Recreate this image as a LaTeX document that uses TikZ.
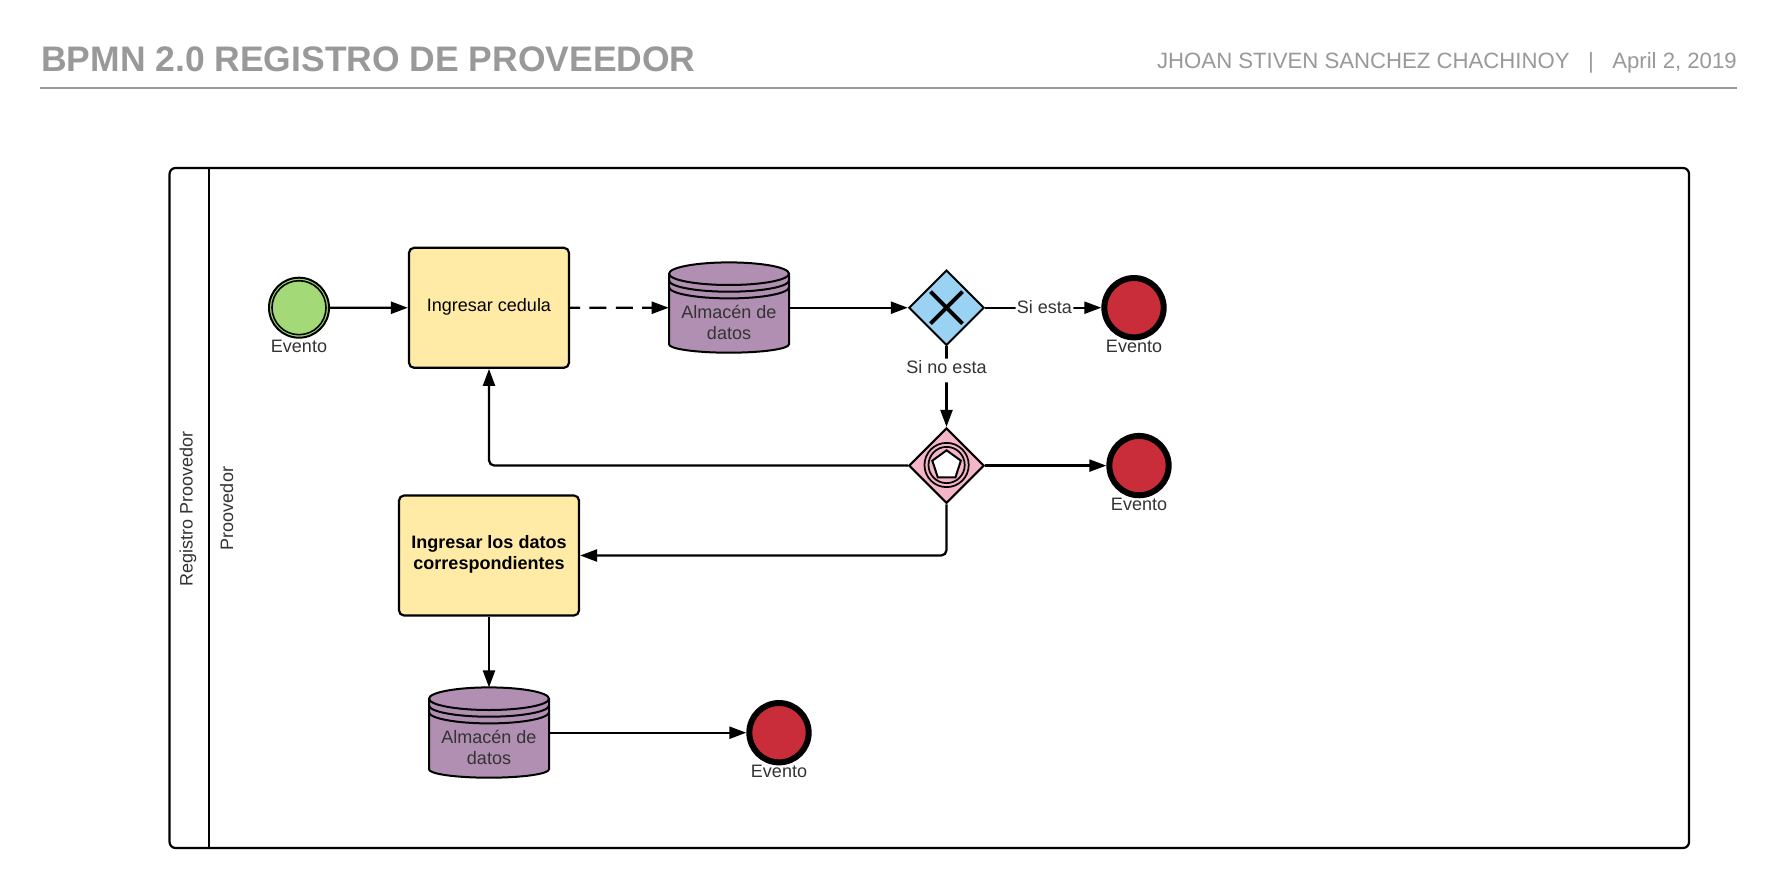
\documentclass[tikz,border=0pt]{standalone}
\usepackage{fontspec}
\setmainfont{Liberation Sans}
\usetikzlibrary{arrows.meta,shapes.geometric,calc}
\definecolor{taskfill}{HTML}{FFEBA6}
\definecolor{dbfill}{HTML}{B08FB2}
\definecolor{startfill}{HTML}{A3D977}
\definecolor{endfill}{HTML}{C92D39}
\definecolor{xorfill}{HTML}{99D2F2}
\definecolor{evfill}{HTML}{F5B5C9}
\definecolor{headgray}{HTML}{999999}
\definecolor{lbl}{HTML}{333333}
\newcommand{\lift}{\rule[-4.55pt]{0pt}{1pt}}
\tikzset{
  x=0.75pt,y=0.75pt,
  base text/.style={font=\fontsize{13.5pt}{15.75pt}\selectfont,align=center,inner sep=0pt},
  taskbox/.style={base text,draw=black,line width=1.65pt,fill=taskfill,rounded corners=3.8pt,text=black},
  pool/.style={draw=black,line width=1.65pt,rounded corners=4.5pt,minimum width=1139.6pt,minimum height=510pt,inner sep=0pt},
  gate/.style={diamond,aspect=1,draw=black,line width=1.5pt,inner sep=0pt,minimum width=56.5pt,minimum height=56.5pt},
  startev/.style={circle,draw=black,line width=1.5pt,fill=startfill,inner sep=0pt,minimum size=45pt},
  endev/.style={circle,draw=black,line width=4.5pt,fill=endfill,inner sep=0pt,minimum size=44.5pt},
  dbbox/.style={rectangle,inner sep=0pt,minimum width=90pt,minimum height=67.5pt},
  lab/.style={base text,text=lbl},
  edgelab/.style={base text,text=lbl,fill=white,inner sep=1pt},
  flow/.style={draw=black,line width=1.7pt,-{Triangle[length=12.75pt,width=9pt]},rounded corners=4pt},
  dbline/.style={draw=black,line width=1.5pt},
}
\newcommand{\dbshape}[2]{%
  \begin{scope}[shift={(#1,-#2)}]
    \path[dbline,fill=dbfill] (-60,34) -- (-60,-36.6) arc[start angle=180,end angle=360,x radius=60,y radius=8.4]
      -- (60,34) arc[start angle=0,end angle=180,x radius=60,y radius=11.3] -- cycle;
    \path[dbline] (-60,34) arc[start angle=180,end angle=360,x radius=60,y radius=11.3];
    \path[dbline] (-60,27.3) arc[start angle=180,end angle=360,x radius=60,y radius=11.3];
    \path[dbline] (-60,20.6) arc[start angle=180,end angle=360,x radius=60,y radius=11.3];
  \end{scope}}
\begin{document}
\begin{tikzpicture}
\useasboundingbox (0,0) rectangle (1777,-888);
\fill[white] (0,0) rectangle (1777,-888);
% header
\node[anchor=base west,inner sep=0pt,text=headgray,font=\fontsize{26.6pt}{30pt}\selectfont\bfseries] (title) at (41,-72) {BPMN 2.0 REGISTRO DE PROVEEDOR};
\node[anchor=base east,inner sep=0pt,text=headgray,font=\fontsize{16.62pt}{20pt}\selectfont] (meta) at (1737,-69) {JHOAN STIVEN SANCHEZ CHACHINOY\ \ \ |\ \ \ April 2, 2019};
\coordinate (ruleA) at (40,-87.7);
\coordinate (ruleB) at (1737,-87.7);
\draw[headgray,line width=1.4pt] (ruleA) -- (ruleB);
% pool
\node[pool] (poolbox) at (929.3,-508) {};
\coordinate (laneT) at (209,-168);
\coordinate (laneB) at (209,-848);
\draw[black,line width=1.65pt] (laneT) -- (laneB);
\node[lab,rotate=90] (poolname) at (188,-509) {Registro Proovedor};
\node[lab,rotate=90] (lanename) at (226.7,-508.5) {Proovedor};
% data stores
\dbshape{729}{307.7}
\dbshape{489}{732.7}
\node[dbbox] (db1) at (729,-307.7) {};
\node[dbbox] (db2) at (489,-732.7) {};
\node[lab] (db1t) at (729,-322.5) {Almacén de\\datos};
\node[lab] (db2t) at (489,-747.5) {Almacén de\\datos};
% tasks
\node[taskbox,minimum width=120pt,minimum height=90pt] (task1) at (489,-307.8) {Ingresar cedula\lift};
\node[taskbox,minimum width=135pt,minimum height=90pt,font=\fontsize{13.5pt}{15.75pt}\selectfont\bfseries] (task2) at (489,-555.5) {Ingresar los datos\\correspondientes\lift};
% events
\node[startev] (start) at (299,-307.7) {};
\node[circle,draw=black,line width=1.2pt,fill=startfill,inner sep=0pt,minimum size=40.5pt] (startin) at (299,-307.7) {};
\node[lab] (startl) at (299,-346.7) {Evento};
\node[endev] (end1) at (1134,-307.7) {};
\node[lab] (end1l) at (1134,-346.7) {Evento};
\node[endev] (end2) at (1139,-465.6) {};
\node[lab] (end2l) at (1139,-504.5) {Evento};
\node[endev] (end3) at (779,-732.7) {};
\node[lab] (end3l) at (779,-771.7) {Evento};
% gateways
\node[gate,fill=xorfill] (gw1) at (946.5,-307.7) {};
\coordinate (xa) at (930.5,-291.7);
\coordinate (xb) at (962.5,-323.7);
\coordinate (xc) at (930.5,-323.7);
\coordinate (xd) at (962.5,-291.7);
\draw[black,line width=2.9pt] (xa) -- (xb) (xc) -- (xd);
\node[gate,fill=evfill] (gw2) at (946.5,-465.6) {};
\node[circle,draw=black,line width=1.3pt,inner sep=0pt,minimum size=33.2pt] (ring1) at (946.6,-465) {};
\node[circle,draw=black,line width=1.3pt,inner sep=0pt,minimum size=27.2pt] (ring2) at (946.6,-465) {};
\node[regular polygon,regular polygon sides=5,draw=black,line width=1.5pt,fill=white,inner sep=0pt,minimum size=22.5pt] (penta) at (946.6,-465.3) {};
% connectors
\draw[flow] (start) -- (task1);
\draw[flow,dash pattern=on 12.75pt off 7pt,dash phase=5.25pt] (task1) -- (db1);
\draw[flow] (db1) -- (gw1);
\path[flow] (gw1) -- (end1) node[edgelab,pos=.51] (si) {Si esta\rule[-1.7pt]{0pt}{1pt}};
\path[flow] (gw1) -- (gw2) node[edgelab,pos=.30,minimum height=17.8pt] (sino) {Si no esta\rule[-4.7pt]{0pt}{1pt}};
\draw[flow] (gw2.west) -| (task1.south);
\draw[flow] (gw2.east) -- (end2);
\draw[flow] (gw2.south) |- (task2.east);
\draw[flow] (task2.south) -- (db2.north);
\draw[flow] (db2) -- (end3);
\end{tikzpicture}
\end{document}
